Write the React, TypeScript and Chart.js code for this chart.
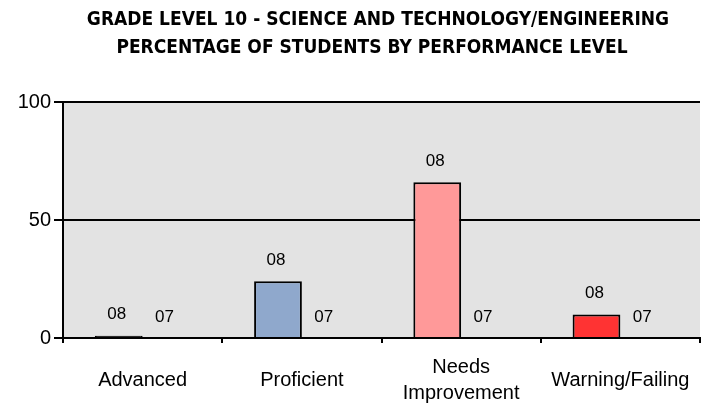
import React, { useEffect, useRef } from "react";
import { Chart, registerables } from "chart.js";

Chart.register(...registerables);

const titleLines = [
  "GRADE LEVEL 10 - SCIENCE AND TECHNOLOGY/ENGINEERING",
  "PERCENTAGE OF STUDENTS BY PERFORMANCE LEVEL",
];
const categories: string[][] = [["Advanced"], ["Proficient"], ["Needs", "Improvement"], ["Warning/Failing"]];
const seriesNames = ["08", "07"];
const values08 = [1, 24, 66, 10];
const values07 = [0, 0, 0, 0];
const colors08 = ["#000000", "#8FA8CC", "#FF9999", "#FF3333"];
const yTicks = [0, 50, 100];

const LABEL_FONT = "Liberation Sans, Arial, sans-serif";
const TITLE_FONT = "'Liberation Sans Narrow', 'DejaVu Sans Condensed', 'Liberation Sans', sans-serif";

const decorPlugin = {
  id: "decor",
  beforeDraw(chart: any) {
    const { ctx, chartArea } = chart;
    ctx.save();
    ctx.fillStyle = "#E3E3E3";
    ctx.fillRect(chartArea.left, chartArea.top, chartArea.right - chartArea.left, chartArea.bottom - chartArea.top);
    ctx.restore();
  },
  afterDraw(chart: any) {
    const { ctx } = chart;
    ctx.save();
    // title
    ctx.fillStyle = "#000";
    ctx.textAlign = "center";
    ctx.textBaseline = "middle";
    ctx.font = `bold 19px ${TITLE_FONT}`;
    ctx.fillText(titleLines[0], 378, 20);
    ctx.fillText(titleLines[1], 372, 48);
    // x labels
    const xs = chart.scales.x;
    ctx.font = `20px ${LABEL_FONT}`;
    categories.forEach((lines, i) => {
      const x = xs.getPixelForValue(i);
      const lh = 26;
      const startY = 380 - ((lines.length - 1) * lh) / 2;
      lines.forEach((t, j) => ctx.fillText(t, x, startY + j * lh));
    });
    // bar labels
    ctx.font = `17px ${LABEL_FONT}`;
    chart.data.datasets.forEach((ds: any, di: number) => {
      const meta = chart.getDatasetMeta(di);
      meta.data.forEach((el: any) => {
        ctx.fillText(ds.label, el.x - 2, el.y - 21);
      });
    });
    ctx.restore();
  },
};

export default function App() {
  const ref = useRef<HTMLCanvasElement>(null);
  useEffect(() => {
    const chart = new Chart(ref.current!, {
      type: "bar",
      data: {
        labels: categories.map((c) => c.join(" ")),
        datasets: [
          {
            label: seriesNames[0],
            data: values08,
            backgroundColor: colors08,
            borderColor: "#000",
            borderWidth: 2,
          },
          {
            label: seriesNames[1],
            data: values07,
            backgroundColor: "#CCCCCC",
            borderColor: "#000",
            borderWidth: 0,
          },
        ],
      },
      options: {
        animation: false,
        responsive: false,
        maintainAspectRatio: false,
        layout: { padding: { top: 102, right: 1, left: 0, bottom: 0 } },
        plugins: { legend: { display: false }, tooltip: { enabled: false }, title: { display: false } },
        datasets: { bar: { categoryPercentage: 0.6, barPercentage: 1 } },
        scales: {
          x: {
            grid: { drawOnChartArea: false, tickLength: 5, color: "#000", lineWidth: 2, offset: true },
            border: { color: "#000", width: 2 },
            ticks: { callback: () => "", font: { size: 1 } },
            afterFit: (s: any) => {
              s.height = 69;
            },
          },
          y: {
            min: 0,
            max: 100,
            afterBuildTicks: (s: any) => {
              s.ticks = yTicks.map((v) => ({ value: v }));
            },
            grid: { color: "#000", tickLength: 9, lineWidth: 2 },
            border: { color: "#000", width: 2 },
            ticks: { color: "#000", padding: 3, font: { size: 20, family: LABEL_FONT } },
            afterFit: (s: any) => {
              s.width = 63;
            },
          },
        },
      },
      plugins: [decorPlugin],
    });
    return () => chart.destroy();
  }, []);
  return (
    <div style={{ position: "absolute", left: 0, top: 0, width: 701, height: 407, background: "#fff" }}>
      <canvas ref={ref} width={701} height={407} style={{ width: 701, height: 407 }} />
    </div>
  );
}
